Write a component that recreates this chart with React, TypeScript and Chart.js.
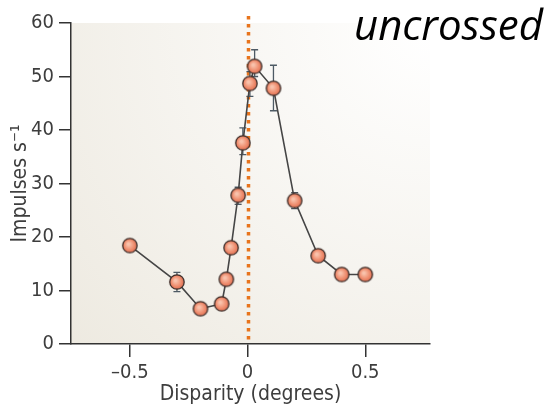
import React, { useEffect, useRef } from "react";
import { Chart, registerables } from "chart.js";

Chart.register(...registerables);

const disparity = [-0.5, -0.3, -0.2, -0.11, -0.09, -0.07, -0.04, -0.02, 0.01, 0.03, 0.11, 0.2, 0.3, 0.4, 0.5];
const impulses = [18.4, 11.6, 6.6, 7.5, 12.1, 18.0, 27.8, 37.6, 48.7, 51.9, 47.8, 26.8, 16.5, 13.0, 13.0];
const errPlus = [null, 1.8, null, null, null, null, 1.5, 2.8, 2.2, 3.1, 4.3, 1.5, null, null, null];
const errMinus = [null, 1.8, null, null, null, null, 1.7, 2.2, 2.4, 1.9, 4.2, 1.5, null, null, null];
const xTicks = [-0.5, 0, 0.5];
const yTicks = [0, 10, 20, 30, 40, 50, 60];
const xTitle = "Disparity (degrees)";
const yTitle = "Impulses s\u207B\u00B9";
const cornerLabel = "uncrossed";

const FONT = "'DejaVu Sans Condensed', 'Liberation Sans', sans-serif";
const TEXT = "#3d3d3d";

function makeMarker(): HTMLCanvasElement {
  const c = document.createElement("canvas");
  c.width = 18;
  c.height = 18;
  const g = c.getContext("2d")!;
  const grad = g.createRadialGradient(7.5, 7.5, 1, 9, 9, 8);
  grad.addColorStop(0, "#f9c3ad");
  grad.addColorStop(0.6, "#ee8b6c");
  grad.addColorStop(1, "#d9654a");
  g.beginPath();
  g.arc(9, 9, 7.2, 0, Math.PI * 2);
  g.fillStyle = grad;
  g.fill();
  g.lineWidth = 1.3;
  g.strokeStyle = "#3b2c28";
  g.stroke();
  return c;
}

const bgPlugin = {
  id: "bgPlugin",
  beforeDraw(chart: any) {
    const { ctx, chartArea: a } = chart;
    ctx.save();
    const grad = ctx.createRadialGradient(a.right, a.top, 10, a.right, a.top, 520);
    grad.addColorStop(0, "#ffffff");
    grad.addColorStop(1, "#ece8de");
    ctx.fillStyle = grad;
    ctx.fillRect(a.left, a.top, a.right - a.left, a.bottom - a.top);
    ctx.restore();
  },
};

const extrasPlugin = {
  id: "extrasPlugin",
  beforeDatasetsDraw(chart: any) {
    const { ctx, chartArea: a, scales } = chart;
    const xs = scales.x;
    const ys = scales.y;
    ctx.save();
    const x0 = Math.round(xs.getPixelForValue(0)) + 0.5;
    ctx.strokeStyle = "#e8741c";
    ctx.lineWidth = 3.5;
    ctx.setLineDash([3.5, 4.5]);
    ctx.beginPath();
    ctx.moveTo(x0, 16);
    ctx.lineTo(x0, a.bottom);
    ctx.stroke();
    ctx.setLineDash([]);
    ctx.strokeStyle = "#4d5a64";
    ctx.lineWidth = 1.3;
    disparity.forEach((xv, i) => {
      const p = errPlus[i];
      const m = errMinus[i];
      if (p == null || m == null) return;
      const px = xs.getPixelForValue(xv);
      const top = ys.getPixelForValue(impulses[i] + p);
      const bot = ys.getPixelForValue(impulses[i] - m);
      ctx.beginPath();
      ctx.moveTo(px, top);
      ctx.lineTo(px, bot);
      ctx.moveTo(px - 3.5, top);
      ctx.lineTo(px + 3.5, top);
      ctx.moveTo(px - 3.5, bot);
      ctx.lineTo(px + 3.5, bot);
      ctx.stroke();
    });
    ctx.restore();
  },
};

export default function App() {
  const ref = useRef<HTMLCanvasElement | null>(null);
  useEffect(() => {
    document.body.style.margin = "0";
    const marker = makeMarker();
    const chart = new Chart(ref.current!, {
      type: "scatter",
      data: {
        datasets: [
          {
            data: disparity.map((x, i) => ({ x, y: impulses[i] })),
            showLine: true,
            borderColor: "#454545",
            borderWidth: 1.6,
            pointStyle: marker as any,
            pointRadius: 7,
          },
        ],
      },
      options: {
        animation: false,
        responsive: false,
        layout: { padding: { top: 23, right: 118, left: 0, bottom: 0 } },
        plugins: { legend: { display: false }, tooltip: { enabled: false } },
        scales: {
          x: {
            type: "linear",
            min: -0.75,
            max: 0.775,
            afterFit(s: any) {
              s.height = 66;
            },
            afterBuildTicks(s: any) {
              s.ticks = xTicks.map((v) => ({ value: v }));
            },
            ticks: {
              color: TEXT,
              font: { family: FONT, size: 20 },
              padding: 4,
              maxRotation: 0,
              callback: (v: any) => (v < 0 ? "\u2013" + String(Math.abs(v)) : String(v)),
            },
            grid: { drawOnChartArea: false, drawTicks: true, tickLength: 13, color: "#333", lineWidth: 1.5 },
            border: { color: "#333", width: 1.5 },
            title: { display: true, text: xTitle, color: TEXT, font: { family: FONT, size: 21 }, padding: { top: 0, bottom: 3 } },
          },
          y: {
            type: "linear",
            min: 0,
            max: 60,
            afterFit(s: any) {
              s.width = 71;
            },
            afterBuildTicks(s: any) {
              s.ticks = yTicks.map((v) => ({ value: v }));
            },
            ticks: { color: TEXT, font: { family: FONT, size: 20 }, padding: 5 },
            grid: { drawOnChartArea: false, drawTicks: true, tickLength: 12, color: "#333", lineWidth: 1.5 },
            border: { color: "#333", width: 1.5 },
            title: { display: true, text: yTitle, color: TEXT, font: { family: FONT, size: 21 }, padding: { top: 8, bottom: 0 } },
          },
        },
      },
      plugins: [bgPlugin, extrasPlugin],
    });
    return () => chart.destroy();
  }, []);
  return (
    <div style={{ position: "relative", width: 548, height: 410, background: "#fff" }}>
      <canvas ref={ref} width={548} height={410} style={{ display: "block" }} />
      <div
        style={{
          position: "absolute",
          right: 5,
          top: -5,
          fontFamily: "'Open Sans', sans-serif",
          fontStyle: "italic",
          fontSize: 42,
          color: "#000",
          lineHeight: "normal",
          whiteSpace: "nowrap",
        }}
      >
        {cornerLabel}
      </div>
    </div>
  );
}
